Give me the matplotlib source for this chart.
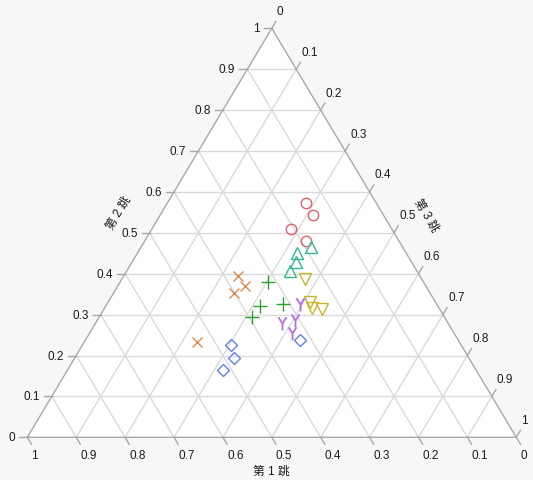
import numpy as np
import matplotlib.pyplot as plt
from matplotlib.path import Path

plt.rcParams['font.family'] = ['Liberation Sans', 'Noto Sans CJK SC', 'DejaVu Sans']

# 数据: (第1跳, 第2跳, 第3跳)
circle_a = [0.144, 0.145, 0.205, 0.189]
circle_b = [0.574, 0.543, 0.510, 0.481]
circle_c = [0.282, 0.312, 0.285, 0.330]

tri_a = [0.187, 0.224, 0.236, 0.259]
tri_b = [0.465, 0.450, 0.428, 0.407]
tri_c = [0.348, 0.326, 0.336, 0.334]

vtri_a = [0.239, 0.257, 0.261, 0.241]
vtri_b = [0.388, 0.330, 0.315, 0.314]
vtri_c = [0.373, 0.413, 0.424, 0.445]

y_a = [0.278, 0.309, 0.340, 0.330]
y_b = [0.327, 0.288, 0.280, 0.256]
y_c = [0.395, 0.403, 0.380, 0.414]

plus_a = [0.319, 0.364, 0.315, 0.395]
plus_b = [0.379, 0.321, 0.325, 0.293]
plus_c = [0.302, 0.315, 0.360, 0.312]

x_a = [0.372, 0.370, 0.400, 0.536]
x_b = [0.394, 0.369, 0.354, 0.234]
x_c = [0.234, 0.261, 0.246, 0.230]

dia_a = [0.471, 0.481, 0.517, 0.324]
dia_b = [0.226, 0.193, 0.165, 0.238]
dia_c = [0.303, 0.326, 0.318, 0.438]

tick_vals = np.round(np.arange(0, 1.01, 0.1), 1)


def to_xy(b, c):
    b = np.asarray(b)
    c = np.asarray(c)
    return b / 2 + c, b


def fmt(v):
    if v == 0:
        return '0'
    if v == 1:
        return '1'
    return f'{v:.1f}'


# 像素 -> 数据单位 (宽 489px, 高 409px)
SX = 489.0
SY = 409.0


def px(dx, dy):
    return dx / SX, -dy / SY


# Y 形标记
y_marker = Path([(0, 0), (-0.55, 0.85), (0, 0), (0.55, 0.85), (0, 0), (0, -0.95)],
                [Path.MOVETO, Path.LINETO, Path.MOVETO, Path.LINETO,
                 Path.MOVETO, Path.LINETO])

fig = plt.figure(figsize=(5.33, 4.81), dpi=100, facecolor='#F7F7F7')
ax = fig.add_axes([0, 0, 1, 1])
ax.set_xlim(-27.3 / SX, (533 - 27.3) / SX)
ax.set_ylim(-(481 - 438.3) / SY, 438.3 / SY)
ax.axis('off')

# 白色三角形
ax.fill([0, 1, 0.5], [0, 0, 1], color='white', zorder=0)

grid_col = '#DADADA'
for v in tick_vals[1:-1]:
    # 第2跳 = v (水平)
    ax.plot([v / 2, 1 - v / 2], [v, v], color=grid_col, lw=1, zorder=1)
    # 第3跳 = v
    ax.plot([v, v + (1 - v) / 2], [0, 1 - v], color=grid_col, lw=1, zorder=1)
    # 第1跳 = v
    ax.plot([1 - v, (1 - v) / 2], [0, 1 - v], color=grid_col, lw=1, zorder=1)

ax.plot([0, 1, 0.5, 0], [0, 0, 1, 0], color='#A8A8A8', lw=1, zorder=2)

tick_col = '#A8A8A8'
txt_col = '#1A1A1A'
fs = 8.5
for v in tick_vals:
    # 左轴 第2跳
    x0, y0 = v / 2, v
    dx, dy = px(-8, 0)
    ax.plot([x0, x0 + dx], [y0, y0], color=tick_col, lw=1, clip_on=False)
    lx, _ = px(-12, 0)
    ax.text(x0 + lx, y0, fmt(v), ha='right', va='center', fontsize=fs, color=txt_col)

    # 底轴 第1跳
    x0, y0 = 1 - v, 0
    dx, dy = px(4.1, 6.9)
    ax.plot([x0, x0 + dx], [y0, y0 + dy], color=tick_col, lw=1, clip_on=False)
    ox, oy = px(0, 11)
    ax.text(x0 + dx + ox, y0 + dy + oy, fmt(v), ha='left', va='center',
            fontsize=fs, color=txt_col)

    # 右轴 第3跳
    x0, y0 = (1 - v) / 2 + v, 1 - v
    dx, dy = px(4.1, -6.9)
    ax.plot([x0, x0 + dx], [y0, y0 + dy], color=tick_col, lw=1, clip_on=False)
    ox, oy = px(1, -10.5)
    ax.text(x0 + dx + ox, y0 + dy + oy, fmt(v), ha='left', va='center',
            fontsize=fs, color=txt_col)

# 轴标题
ax.text(0.498, -0.0824, '第 1 跳', ha='center', va='center', fontsize=fs, color=txt_col)
ax.text(0.1865, 0.5513, '第 2 跳', ha='center', va='center', fontsize=fs,
        rotation=59, color=txt_col)
ax.text(0.8145, 0.546, '第 3 跳', ha='center', va='center', fontsize=fs,
        rotation=-59, color=txt_col)

groups = [
    (circle_b, circle_c, 'o', '#E0606E', 7.5, 1),
    (tri_b, tri_c, '^', '#35B890', 8, 1),
    (vtri_b, vtri_c, 'v', '#C8B62A', 8, 1),
    (y_b, y_c, y_marker, '#B070E0', 10, 1.3),
    (plus_b, plus_c, '+', '#2EA02E', 10, 1),
    (x_b, x_c, 'x', '#E08A50', 7, 1),
    (dia_b, dia_c, 'D', '#5E82E6', 6, 1),
]
for b, c, m, col, ms, mw in groups:
    x, y = to_xy(b, c)
    ax.plot(x, y, ls='none', marker=m, ms=ms, mfc='none', mec=col, mew=mw, zorder=3)

fig.savefig('out.png', dpi=100, facecolor=fig.get_facecolor())
